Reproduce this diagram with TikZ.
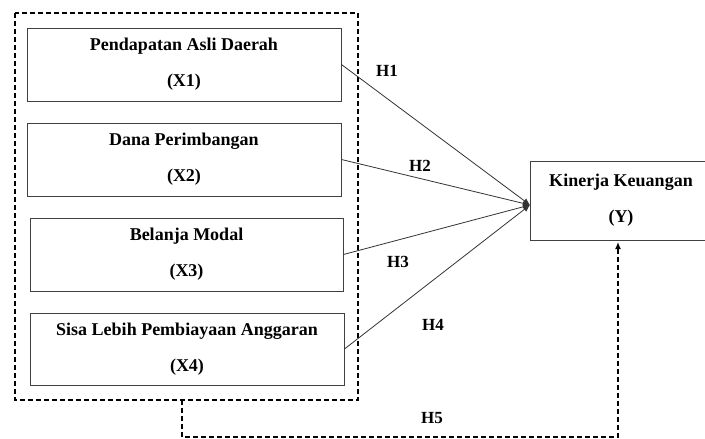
\documentclass[tikz,border=0pt]{standalone}
\usepackage{fontspec}
\setmainfont{Liberation Serif}
\usetikzlibrary{arrows.meta}

\begin{document}
\begin{tikzpicture}[
    x=1pt, y=-1pt,
    var box/.style={draw=black!75, line width=0.9pt, fill=white, align=center,
        font=\fontsize{18}{36}\selectfont\bfseries, inner sep=0pt},
    hyp label/.style={font=\fontsize{17}{18}\selectfont\bfseries},
    path line/.style={-{Latex[length=7pt,width=6pt]}, line width=0.8pt, black!80},
    group line/.style={line width=1.6pt, dash pattern=on 5pt off 3pt},
    indirect line/.style={-{Latex[length=7pt,width=6pt]}, line width=1.4pt, dash pattern=on 5pt off 3pt}
]

\useasboundingbox (0,0) rectangle (705,439);

% Group of independent variables
\draw[group line] (15,13) rectangle (358,400);

% Independent variables
\node[var box, minimum width=314pt, minimum height=73pt] (X1) at (184,64.5) {Pendapatan Asli Daerah\\(X1)};
\node[var box, minimum width=314pt, minimum height=73pt] (X2) at (184,159.5) {Dana Perimbangan\\(X2)};
\node[var box, minimum width=313pt, minimum height=73pt] (X3) at (186.5,254.5) {Belanja Modal\\(X3)};
\node[var box, minimum width=314pt, minimum height=72pt] (X4) at (187,349) {Sisa Lebih Pembiayaan Anggaran\\(X4)};

% Dependent variable
\node[var box, minimum width=182pt, minimum height=79pt] (Y) at (621,200.5) {Kinerja Keuangan\\(Y)};
\coordinate (Ytip) at (530,205);

% Hypotheses
\draw[path line] (X1.east) -- (Ytip);
\draw[path line] (X2.east) -- (Ytip);
\draw[path line] (X3.east) -- (Ytip);
\draw[path line] (X4.east) -- (Ytip);

\node[hyp label] (H1) at (387,71) {H1};
\node[hyp label] (H2) at (420,166) {H2};
\node[hyp label] (H3) at (398,262) {H3};
\node[hyp label] (H4) at (433,325) {H4};
\node[hyp label] (H5) at (432,418) {H5};

% Simultaneous effect
\coordinate (G) at (182,400);
\coordinate (Ybot) at (618,242);
\draw[indirect line] (G) -- (182,437) -- (618,437) -- (Ybot);

\end{tikzpicture}
\end{document}
